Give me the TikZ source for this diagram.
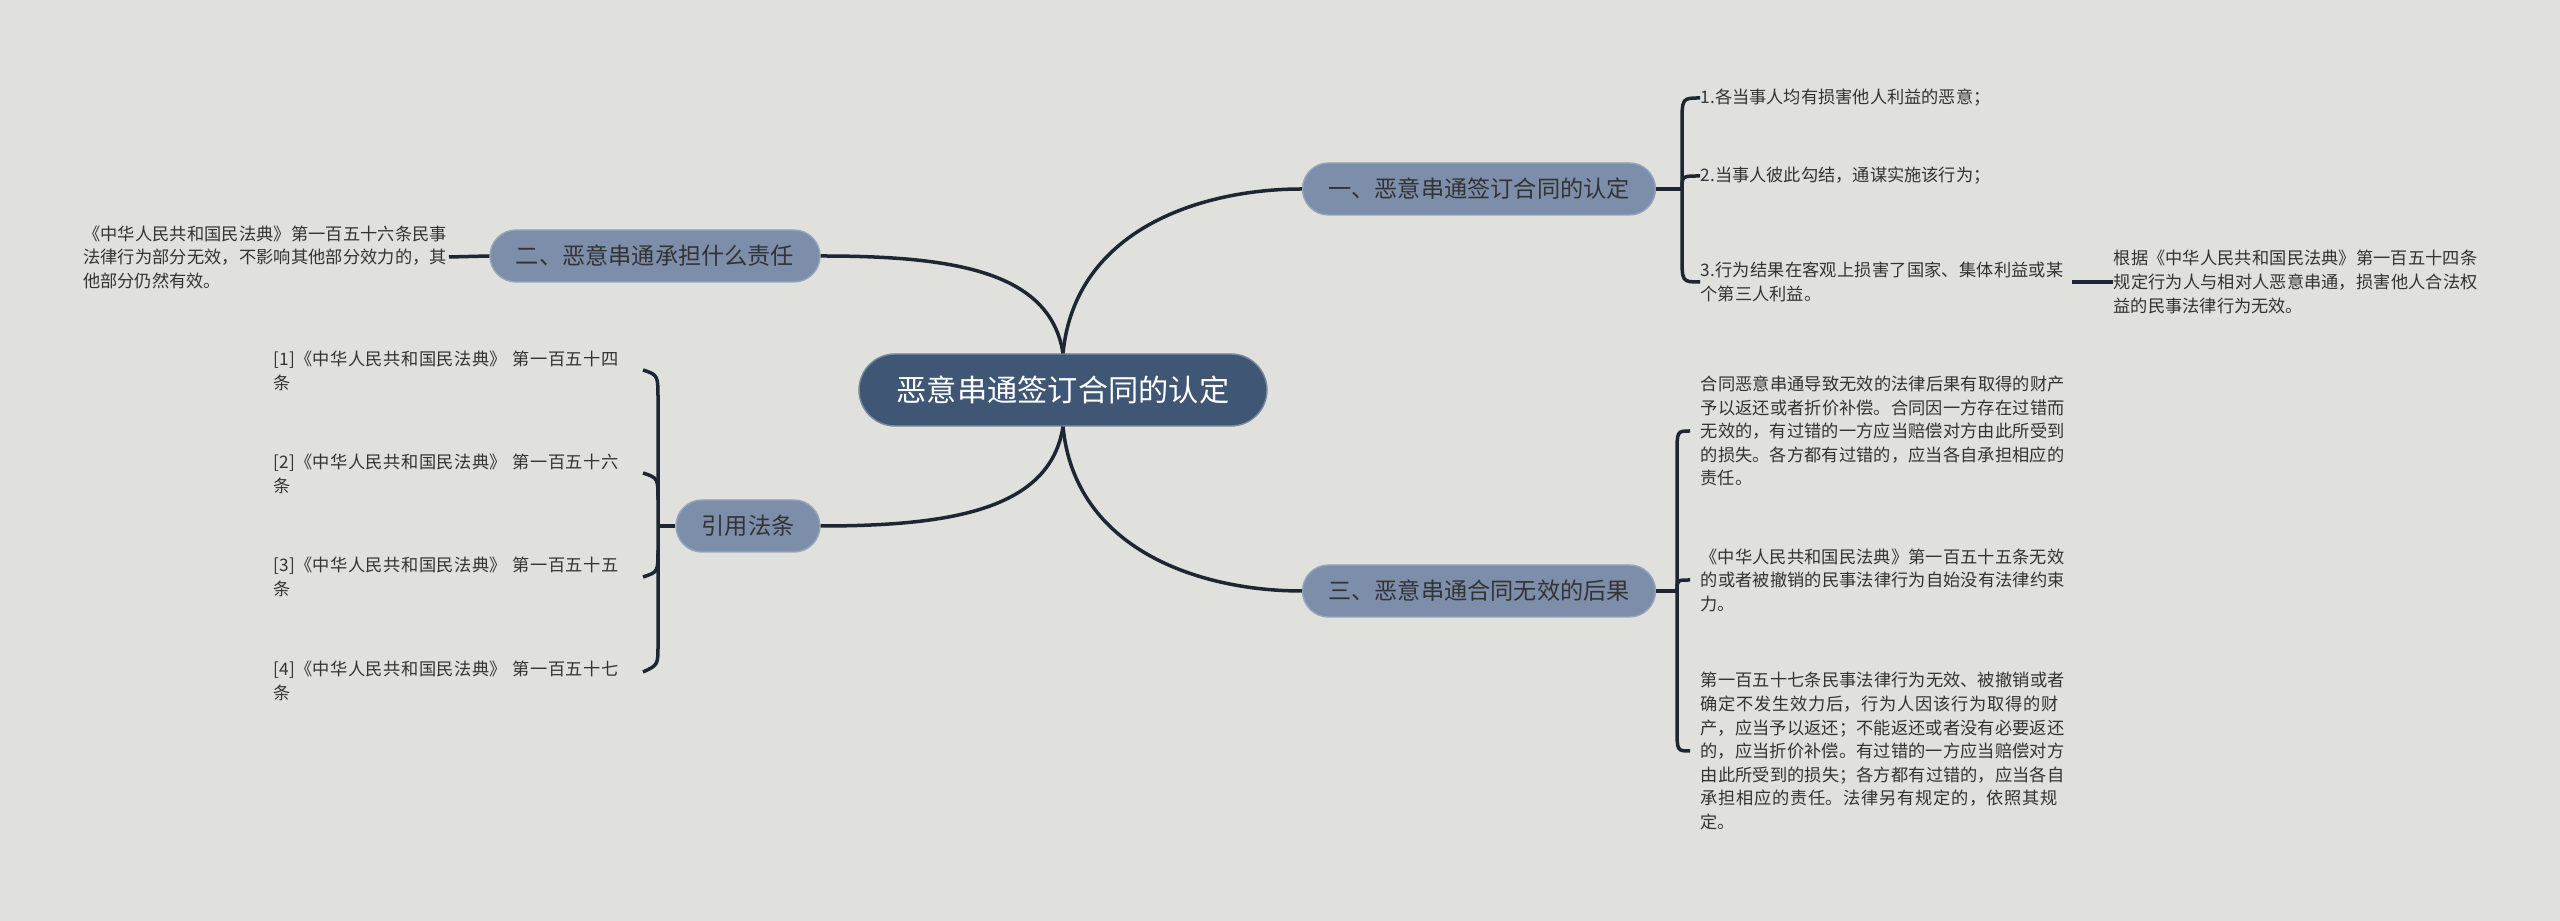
\documentclass[tikz,border=0pt]{standalone}
\usepackage{fontspec}
\setmainfont{Noto Sans CJK SC}
\XeTeXlinebreaklocale "zh"
\XeTeXlinebreakskip=0pt plus 1pt
\definecolor{bg}{HTML}{E0E1DC}
\definecolor{cnode}{HTML}{3F5675}
\definecolor{bnode}{HTML}{7D8EAA}
\definecolor{lnk}{HTML}{1E2633}
\definecolor{txt}{HTML}{333333}
\begin{document}
\begin{tikzpicture}[x=0.1mm,y=-0.1mm,
  center/.style={fill=cnode,draw=cnode!70!white,rounded corners=3.6mm,minimum width=40.8mm,minimum height=7.2mm,text=white,font=\fontsize{8.6pt}{10pt}\selectfont,inner sep=0pt},
  branch/.style={fill=bnode,draw=bnode!80!white,rounded corners=2.6mm,minimum height=5.2mm,text=txt,font=\fontsize{6.6pt}{8pt}\selectfont,inner sep=0pt},
  leaf/.style={text=txt,font=\fontsize{4.9pt}{6.7pt}\selectfont,align=left,inner sep=0pt},
  con/.style={draw=lnk,line width=0.35mm}]
\fill[bg] (0,0) rectangle (2560,921);
\useasboundingbox (0,0) rectangle (2560,921);
\node[center] (c) at (1063,390) {恶意串通签订合同的认定};
\node[branch,minimum width=35.3mm] (b1) at (1479,189) {一、恶意串通签订合同的认定};
\node[branch,minimum width=33mm] (b2) at (655,256) {二、恶意串通承担什么责任};
\node[branch,minimum width=35.3mm] (b3) at (1479,591) {三、恶意串通合同无效的后果};
\node[branch,minimum width=14.4mm] (b4) at (748,526) {引用法条};

\draw[con] (c.north) .. controls (1075,230) and (1200,189) .. (b1.west);
\draw[con] (c.south) .. controls (1075,550) and (1200,591) .. (b3.west);
\draw[con] (c.north) .. controls (1050,270) and (950,256) .. (b2.east);
\draw[con] (c.south) .. controls (1050,510) and (950,526) .. (b4.east);

% right top leaves
\node[leaf,anchor=west] (l1) at (1700,98) {1.各当事人均有损害他人利益的恶意；};
\node[leaf,anchor=west] (l2) at (1700,176) {2.当事人彼此勾结，通谋实施该行为；};
\node[leaf,anchor=west,text width=36.5mm] (l3) at (1700,282) {3.行为结果在客观上损害了国家、集体利益或某个第三人利益。};
\node[leaf,anchor=west,text width=36.5mm] (l4) at (2113,282) {根据《中华人民共和国民法典》第一百五十四条规定行为人与相对人恶意串通，损害他人合法权益的民事法律行为无效。};
\coordinate (j1) at (1682,189);
\draw[con] (b1.east) -- (j1);
\draw[con] (l1.west) .. controls (1682,98) .. (1682,125) -- (1682,255) .. controls (1682,282) .. (l3.west);
\draw[con] (j1) .. controls (1682,176) .. (l2.west);
\draw[con] (2072,282) -- (l4.west);

% right bottom leaves
\node[leaf,anchor=west,text width=36.5mm] (m1) at (1700,431) {合同恶意串通导致无效的法律后果有取得的财产予以返还或者折价补偿。合同因一方存在过错而无效的，有过错的一方应当赔偿对方由此所受到的损失。各方都有过错的，应当各自承担相应的责任。};
\node[leaf,anchor=west,text width=36.5mm] (m2) at (1700,580) {《中华人民共和国民法典》第一百五十五条无效的或者被撤销的民事法律行为自始没有法律约束力。};
\node[leaf,anchor=west,text width=36.5mm] (m3) at (1700,751) {第一百五十七条民事法律行为无效、被撤销或者确定不发生效力后，行为人因该行为取得的财产，应当予以返还；不能返还或者没有必要返还的，应当折价补偿。有过错的一方应当赔偿对方由此所受到的损失；各方都有过错的，应当各自承担相应的责任。法律另有规定的，依照其规定。};
\coordinate (j3) at (1677,591);
\draw[con] (b3.east) -- (j3);
\draw[con] (1690,431) .. controls (1677,431) .. (1677,455) -- (1677,727) .. controls (1677,751) .. (1690,751);
\draw[con] (j3) .. controls (1677,580) .. (1690,580);

% left
\node[leaf,anchor=east,text width=36.5mm] (n1) at (449,257) {《中华人民共和国民法典》第一百五十六条民事法律行为部分无效，不影响其他部分效力的，其他部分仍然有效。};
\draw[con] (b2.west) -- (n1.east);

\node[leaf,anchor=west,text width=35mm] (r1) at (273,371) {[1]《中华人民共和国民法典》 第一百五十四条};
\node[leaf,anchor=west,text width=35mm] (r2) at (273,474) {[2]《中华人民共和国民法典》 第一百五十六条};
\node[leaf,anchor=west,text width=35mm] (r3) at (273,577) {[3]《中华人民共和国民法典》 第一百五十五条};
\node[leaf,anchor=west,text width=35mm] (r4) at (273,681) {[4]《中华人民共和国民法典》 第一百五十七条};
\coordinate (j4) at (658,526);
\draw[con] (b4.west) -- (j4);
\draw[con] (643,370) .. controls (658,375) .. (658,400) -- (658,645) .. controls (658,665) .. (643,672);
\draw[con] (643,473) .. controls (658,478) .. (658,500);
\draw[con] (643,577) .. controls (658,572) .. (658,550);
\end{tikzpicture}
\end{document}
